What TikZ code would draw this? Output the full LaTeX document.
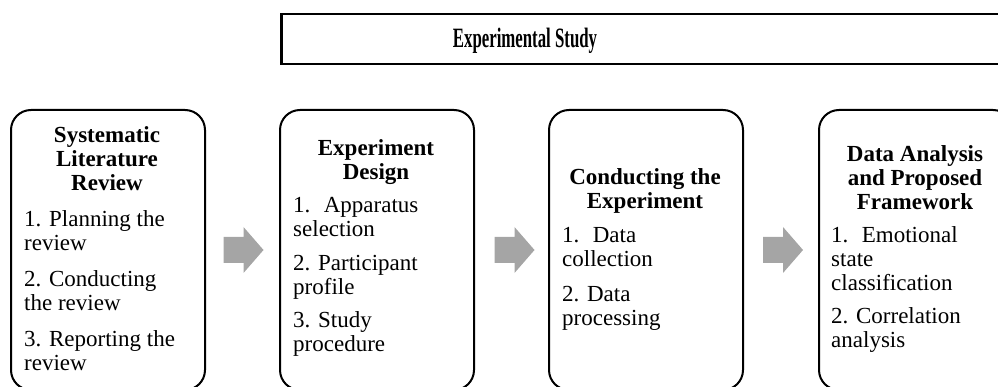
\documentclass[tikz,border=0pt]{standalone}
\usepackage{fontspec}
\usepackage{graphicx}
\setmainfont{Liberation Serif}
\usetikzlibrary{calc}
\definecolor{arrowgray}{RGB}{165,165,165}
\newcommand{\stagetext}{\fontsize{23}{24}\selectfont}
\tikzset{
  stage/.style={draw, line width=2pt, rounded corners=20pt, minimum width=194pt,
    minimum height=280pt, inner sep=0pt, anchor=north west},
  headtext/.style={anchor=base, inner sep=0pt, font=\stagetext\bfseries},
  itemtext/.style={anchor=base west, inner sep=0pt, font=\stagetext},
  blockarrow/.pic={\fill[arrowgray] (-20,-13) -- (0,-13) -- (0,-23) -- (20,0)
    -- (0,23) -- (0,13) -- (-20,13) -- cycle;}
}
\begin{document}
\begin{tikzpicture}[x=1pt,y=-1pt]
\useasboundingbox (0,0) rectangle (998,387);

% banner spanning the experimental phases
\node[draw, line width=2.5pt, minimum width=730pt, minimum height=50pt,
  inner sep=0pt, anchor=north west] (banner) at (280,13) {};
\node[inner sep=0pt, anchor=base, font=\fontsize{28}{30}\selectfont\bfseries]
  (bannertext) at (525,48) {\scalebox{0.6}[1]{Experimental Study}};

% the four stages
\node[stage] (b1) at (10,109) {};
\node[stage] (b2) at (279,109) {};
\node[stage] (b3) at (548,109) {};
\node[stage] (b4) at (818,109) {};

% stage titles
\node[headtext] (h1) at (107,143)
  {\begin{tabular}[t]{@{}c@{}}Systematic\\Literature\\Review\end{tabular}};
\node[headtext] (h2) at (376,156)
  {\begin{tabular}[t]{@{}c@{}}Experiment\\Design\end{tabular}};
\node[headtext] (h3) at (645,185)
  {\begin{tabular}[t]{@{}c@{}}Conducting the\\Experiment\end{tabular}};
\node[headtext] (h4) at (915,162)
  {\begin{tabular}[t]{@{}c@{}}Data Analysis\\and Proposed\\Framework\end{tabular}};

% stage contents
\node[itemtext] (l1) at (24,227)
  {\begin{tabular}[t]{@{}l@{}}1. Planning the\\review\\[12pt]2. Conducting\\the review\\[12pt]3. Reporting the\\review\end{tabular}};
\node[itemtext] (l2) at (293,213)
  {\begin{tabular}[t]{@{}l@{}}1.~ Apparatus\\selection\\[10pt]2. Participant\\profile\\[9pt]3. Study\\procedure\end{tabular}};
\node[itemtext] (l3) at (562,243)
  {\begin{tabular}[t]{@{}l@{}}1.~ Data\\collection\\[11pt]2. Data\\processing\end{tabular}};
\node[itemtext] (l4) at (831,243)
  {\begin{tabular}[t]{@{}l@{}}1.~ Emotional\\state\\classification\\[9pt]2. Correlation\\analysis\end{tabular}};

% arrows between consecutive stages
\pic at ($(b1.east)!0.5!(b2.west)+(1,0)$) {blockarrow};
\pic at ($(b2.east)!0.5!(b3.west)+(3,0)$) {blockarrow};
\pic at ($(b3.east)!0.5!(b4.west)+(2,0)$) {blockarrow};
\end{tikzpicture}
\end{document}
